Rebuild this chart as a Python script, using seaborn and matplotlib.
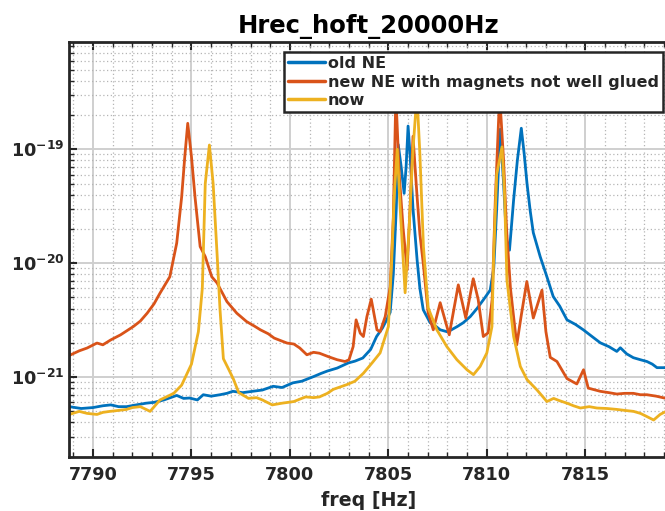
import numpy as np
import pandas as pd
import matplotlib
matplotlib.use('Agg')
import matplotlib.pyplot as plt
import seaborn as sns
from matplotlib.ticker import MultipleLocator, LogLocator, NullFormatter

# ---------------- data (ASD in units of 1e-21) -------------
series_names = ["old NE", "new NE with magnets not well glued", "now"]
series_colors = ["#0072BD", "#D95319", "#EDB120"]

f_old = [7788.8, 7789.4, 7790.0, 7790.5, 7790.9, 7791.3, 7791.7, 7792.2, 7792.7, 7793.1,
         7793.6, 7794.25, 7794.6, 7794.9, 7795.3, 7795.6, 7796.0, 7796.45, 7796.8, 7797.1,
         7797.6, 7798.1, 7798.6, 7799.15, 7799.6, 7800.15, 7800.6, 7801.2, 7801.6, 7801.9,
         7802.4, 7802.96, 7803.3, 7803.7, 7804.1, 7804.4, 7804.7, 7804.92, 7805.09, 7805.25,
         7805.4, 7805.5, 7805.65, 7805.8, 7805.9, 7806.0, 7806.1, 7806.25, 7806.46, 7806.6,
         7806.77, 7807.12, 7807.4, 7807.63, 7807.99, 7808.2, 7808.5, 7808.8, 7809.16, 7809.5,
         7809.82, 7810.17, 7810.35, 7810.5, 7810.68, 7810.85, 7811.0, 7811.15, 7811.36, 7811.55,
         7811.75, 7811.9, 7812.04, 7812.2, 7812.36, 7812.71, 7813.05, 7813.37, 7813.7, 7814.07,
         7814.5, 7814.9, 7815.3, 7815.76, 7816.2, 7816.6, 7816.78, 7817.1, 7817.44, 7817.8,
         7818.13, 7818.4, 7818.64, 7819.1]
v_old = [0.55, 0.53, 0.54, 0.56, 0.57, 0.55, 0.55, 0.57, 0.59, 0.60,
         0.63, 0.69, 0.65, 0.655, 0.63, 0.70, 0.68, 0.70, 0.72, 0.75,
         0.73, 0.75, 0.77, 0.83, 0.81, 0.89, 0.92, 1.01, 1.08, 1.13,
         1.20, 1.33, 1.38, 1.47, 1.75, 2.27, 2.7, 3.2, 3.7, 8.0,
         30, 110, 70, 41, 70, 160, 90, 30, 10.6, 6.0,
         3.9, 3.0, 2.8, 2.6, 2.5, 2.6, 2.78, 3.0, 3.4, 4.0,
         4.76, 5.8, 9.0, 30, 150, 50, 16, 13, 36, 80,
         153, 90, 50, 29, 18.5, 11.4, 7.6, 5.1, 4.2, 3.18,
         2.9, 2.6, 2.3, 2.0, 1.85, 1.68, 1.81, 1.6, 1.48, 1.42,
         1.37, 1.3, 1.21, 1.21]

f_new = [7788.8, 7789.3, 7789.7, 7790.2, 7790.5, 7790.9, 7791.4, 7792.05, 7792.4, 7792.75,
         7793.1, 7793.4, 7793.9, 7794.25, 7794.5, 7794.66, 7794.81, 7795.0, 7795.18, 7795.44,
         7795.7, 7796.03, 7796.3, 7796.8, 7797.3, 7797.8, 7798.2, 7798.5, 7798.9, 7799.2,
         7799.5, 7799.85, 7800.2, 7800.5, 7800.86, 7801.2, 7801.5, 7802.0, 7802.4, 7802.8,
         7803.0, 7803.21, 7803.36, 7803.57, 7803.73, 7803.91, 7804.13, 7804.42, 7804.58, 7804.84,
         7805.09, 7805.25, 7805.38, 7805.55, 7805.75, 7805.95, 7806.1, 7806.25, 7806.45, 7806.6,
         7806.77, 7807.02, 7807.28, 7807.63, 7808.09, 7808.55, 7808.93, 7809.31, 7809.56, 7809.82,
         7810.07, 7810.27, 7810.43, 7810.65, 7810.85, 7811.0, 7811.2, 7811.35, 7811.52, 7811.75,
         7812.03, 7812.36, 7812.8, 7813.0, 7813.22, 7813.56, 7814.07, 7814.57, 7814.91, 7815.15,
         7815.76, 7816.2, 7816.6, 7817.0, 7817.44, 7817.8, 7818.13, 7818.6, 7819.1]
v_new = [1.55, 1.7, 1.8, 1.99, 1.92, 2.12, 2.35, 2.78, 3.1, 3.64,
         4.4, 5.45, 7.6, 15, 38, 86, 169, 86, 38, 14,
         11.4, 7.6, 6.7, 4.6, 3.64, 3.07, 2.8, 2.6, 2.4, 2.2,
         2.1, 1.99, 1.95, 1.8, 1.57, 1.65, 1.62, 1.5, 1.42, 1.37,
         1.42, 1.85, 3.18, 2.43, 2.27, 3.4, 4.83, 2.6, 2.5, 3.4,
         6.2, 25, 300, 60, 20, 8.7, 30, 130, 40, 18,
         10, 3.66, 2.6, 4.5, 2.35, 6.45, 3.3, 7.3, 4.8, 2.27,
         2.45, 4.8, 36, 300, 80, 20, 6.0, 3.5, 1.92, 3.5,
         6.9, 3.3, 5.8, 2.5, 1.49, 1.37, 0.97, 0.87, 1.16, 0.80,
         0.75, 0.73, 0.71, 0.72, 0.72, 0.70, 0.70, 0.68, 0.65]

f_now = [7788.8, 7789.3, 7789.7, 7790.2, 7790.5, 7790.86, 7791.3, 7791.7, 7792.0, 7792.4,
         7792.9, 7793.4, 7794.1, 7794.5, 7795.0, 7795.35, 7795.55, 7795.7, 7795.91, 7796.1,
         7796.3, 7796.45, 7796.62, 7796.9, 7797.13, 7797.4, 7797.9, 7798.3, 7798.6, 7799.1,
         7799.6, 7800.2, 7800.5, 7800.8, 7801.2, 7801.5, 7801.9, 7802.2, 7802.9, 7803.3,
         7803.73, 7804.2, 7804.58, 7805.0, 7805.17, 7805.3, 7805.45, 7805.6, 7805.85, 7806.05,
         7806.25, 7806.45, 7806.6, 7806.78, 7807.02, 7807.46, 7807.97, 7808.48, 7808.99, 7809.32,
         7809.66, 7810.0, 7810.26, 7810.34, 7810.5, 7810.77, 7810.9, 7811.02, 7811.36, 7811.7,
         7812.04, 7812.55, 7813.05, 7813.39, 7813.7, 7814.07, 7814.4, 7814.75, 7815.2, 7815.59,
         7816.1, 7816.61, 7817.0, 7817.45, 7817.8, 7818.13, 7818.47, 7818.8, 7819.1]
v_now = [0.47, 0.50, 0.48, 0.47, 0.49, 0.50, 0.51, 0.52, 0.54, 0.55,
         0.50, 0.63, 0.72, 0.85, 1.3, 2.5, 6.0, 50, 109, 50,
         12, 3.9, 1.45, 1.16, 0.96, 0.73, 0.65, 0.66, 0.63, 0.57,
         0.59, 0.61, 0.64, 0.67, 0.66, 0.67, 0.72, 0.78, 0.86, 0.92,
         1.08, 1.35, 1.63, 2.78, 10.7, 40, 100, 30, 5.5, 20,
         100, 300, 90, 14, 4.06, 2.6, 1.85, 1.42, 1.16, 1.05,
         1.24, 1.63, 2.78, 10.7, 60, 105, 40, 7.1, 2.27, 1.24,
         0.95, 0.77, 0.61, 0.65, 0.62, 0.59, 0.56, 0.535, 0.55, 0.535,
         0.53, 0.52, 0.51, 0.50, 0.48, 0.45, 0.42, 0.47, 0.50]

unit = 1e-21
x_ticks = [7790, 7795, 7800, 7805, 7810, 7815]
y_ticks = [1e-21, 1e-20, 1e-19]
y_tick_labels = [r'$\mathbf{10^{-21}}$', r'$\mathbf{10^{-20}}$', r'$\mathbf{10^{-19}}$']
title_text = "Hrec_hoft_20000Hz"
xlabel_text = "freq [Hz]"

# ---------------- build long-form table ----------------
frames = []
for name, f, v in zip(series_names, [f_old, f_new, f_now], [v_old, v_new, v_now]):
    frames.append(pd.DataFrame({"freq": f, "asd": np.array(v) * unit, "series": name}))
df = pd.concat(frames, ignore_index=True)

# ---------------- plot ----------------
sns.set_theme(style="white")
plt.rcParams['font.family'] = ['DejaVu Sans']
plt.rcParams['font.weight'] = 'bold'

W, H = 665, 511
fig = plt.figure(figsize=(W / 100, H / 100), dpi=100)
ax = fig.add_axes([69 / W, 1 - 456.7 / H, (668 - 69) / W, (456.7 - 41.7) / H])

sns.lineplot(data=df, x="freq", y="asd", hue="series", hue_order=series_names,
             palette=series_colors, estimator=None, sort=False, linewidth=2.0, ax=ax)

ax.set_yscale('log')
ax.set_xlim(7788.78, 7819.2)
ax.set_ylim(2.0e-22, 8.8e-19)

ax.xaxis.set_major_locator(MultipleLocator(5))
ax.xaxis.set_minor_locator(MultipleLocator(1))
ax.set_xticks(x_ticks)
ax.set_xticklabels([str(t) for t in x_ticks])
ax.yaxis.set_minor_locator(LogLocator(base=10, subs=np.arange(2, 10)))
ax.yaxis.set_minor_formatter(NullFormatter())
ax.set_yticks(y_ticks)
ax.set_yticklabels(y_tick_labels)

ax.set_axisbelow(True)
ax.grid(which='major', color='#cfcfcf', linewidth=1.4, linestyle='-')
ax.grid(which='minor', color='#b5b5b5', linewidth=0.9, linestyle=(0, (1, 2)))

ax.tick_params(which='both', direction='in', top=True, right=False, left=True, bottom=True,
               colors='#262626')
ax.tick_params(which='major', length=6, width=1.5, labelsize=12.7, pad=7)
ax.tick_params(axis='y', which='major', pad=3)
ax.tick_params(which='minor', length=3.5, width=1.0)
for lab in ax.get_xticklabels() + ax.get_yticklabels():
    lab.set_fontweight('bold')
    lab.set_color('#262626')

for s in ax.spines.values():
    s.set_color('#262626')
    s.set_linewidth(2.0)

ax.set_xlabel(xlabel_text, fontsize=13.7, fontweight='bold', color='#262626', labelpad=5)
ax.set_ylabel("")
ax.set_title(title_text, fontsize=17.5, fontweight='bold', color='black', pad=6)

handles, labels = ax.get_legend_handles_labels()
leg = ax.legend(handles, labels, loc='upper right', bbox_to_anchor=(663 / W, 1 - 52 / H),
                bbox_transform=fig.transFigure, borderaxespad=0, fancybox=False,
                framealpha=1, edgecolor='#262626', fontsize=11.5, handlelength=2.3,
                handletextpad=0.2, labelspacing=0.22, borderpad=0.25,
                prop={'weight': 'bold', 'size': 11.5})
leg.get_frame().set_linewidth(1.8)
for line in leg.get_lines():
    line.set_linewidth(2.5)

fig.savefig("out.png", dpi=100)
